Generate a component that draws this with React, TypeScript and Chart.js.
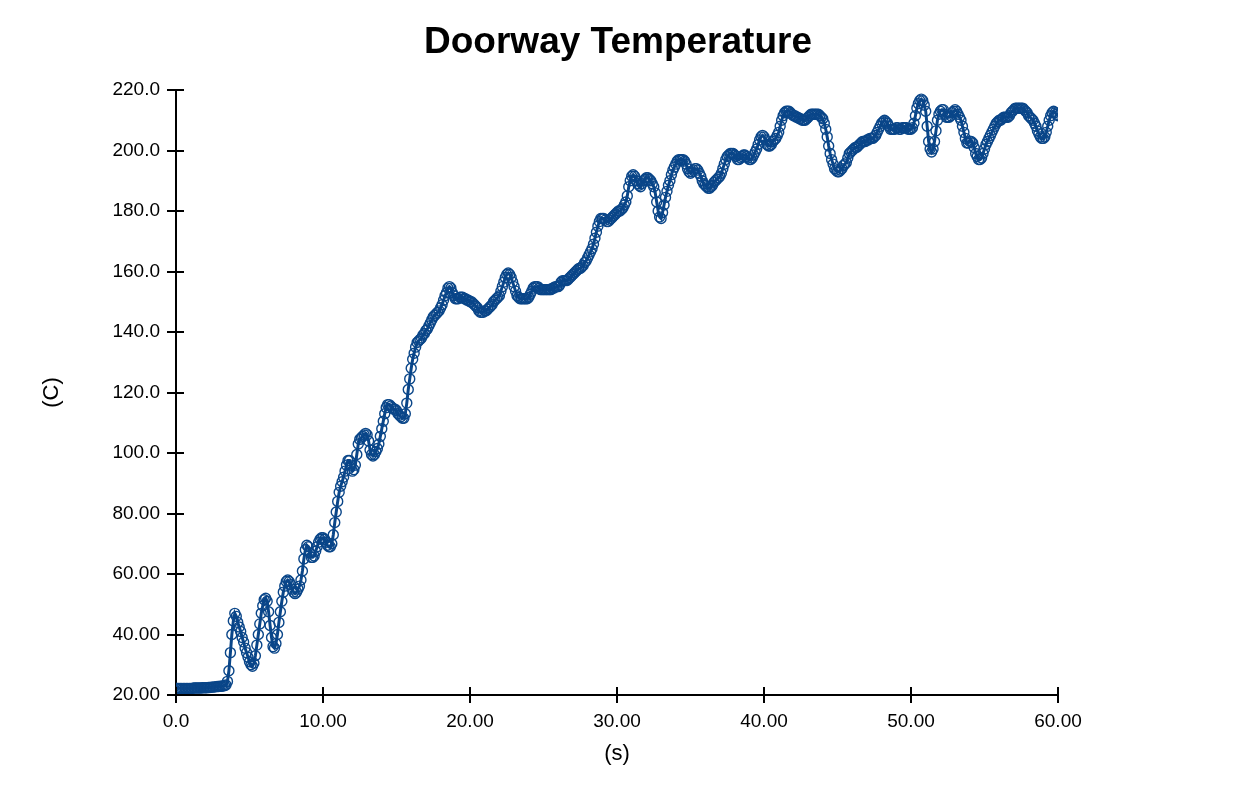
import React, { useEffect, useRef } from "react";
import { Chart, registerables } from "chart.js";

Chart.register(...registerables);

// Sampling interval of the thermocouple record, seconds
const TIME_STEP = 0.1;

// Doorway temperature (C), one reading per TIME_STEP starting at 0 s (ten per row)
const TEMPS: number[] = [
  22.2, 22.2, 22.2, 22.2, 22.2, 22.2, 22.2, 22.2, 22.2, 22.2,
  22.2, 22.2, 22.3, 22.3, 22.3, 22.3, 22.3, 22.3, 22.4, 22.4,
  22.4, 22.4, 22.5, 22.5, 22.6, 22.6, 22.7, 22.7, 22.8, 22.8,
  22.9, 22.9, 23.0, 23.1, 23.3, 24.5, 28.0, 34.0, 40.0, 44.5,
  47.0, 46.0, 44.0, 42.5, 41.0, 39.0, 37.5, 35.5, 34.0, 32.5,
  31.0, 30.0, 29.5, 30.5, 33.0, 36.5, 40.0, 43.5, 47.0, 49.5,
  51.5, 52.0, 51.0, 47.5, 43.0, 39.0, 36.0, 35.5, 37.0, 40.0,
  44.0, 47.5, 51.0, 54.0, 56.0, 57.5, 58.0, 57.5, 56.5, 55.0,
  54.0, 53.5, 54.0, 55.0, 56.0, 58.0, 61.0, 65.0, 68.0, 69.5,
  69.0, 67.0, 65.5, 65.5, 66.0, 67.5, 69.0, 70.5, 71.5, 72.0,
  72.0, 71.5, 70.5, 69.5, 69.0, 69.0, 70.0, 73.0, 77.0, 80.5,
  84.0, 87.0, 89.0, 90.5, 92.0, 94.0, 96.0, 97.5, 97.5, 96.0,
  94.0, 94.5, 96.0, 99.5, 103.0, 104.5, 105.0, 105.5, 106.0, 106.5,
  106.0, 104.0, 101.0, 99.5, 99.0, 99.5, 100.5, 101.5, 103.0, 105.5,
  108.0, 110.5, 113.0, 115.0, 116.0, 116.0, 115.5, 115.0, 114.5, 114.5,
  114.0, 113.0, 112.5, 112.0, 111.5, 111.5, 113.0, 116.5, 121.0, 124.5,
  128.0, 131.0, 133.0, 135.0, 136.5, 137.0, 137.5, 138.0, 139.0, 139.5,
  140.5, 141.0, 142.0, 143.0, 144.0, 145.0, 145.5, 146.0, 146.5, 147.0,
  148.0, 149.0, 150.5, 152.0, 153.0, 154.5, 155.0, 154.5, 153.0, 152.0,
  151.0, 151.0, 151.0, 151.5, 151.5, 151.5, 151.0, 151.0, 150.5, 150.5,
  150.0, 150.0, 149.5, 149.0, 148.5, 148.0, 147.0, 146.5, 146.5, 146.5,
  147.0, 147.0, 147.5, 148.0, 148.5, 149.0, 150.0, 150.5, 151.0, 151.5,
  152.0, 153.5, 155.0, 156.5, 158.0, 159.0, 159.5, 159.0, 158.0, 156.5,
  155.0, 153.5, 152.0, 151.5, 151.0, 151.0, 151.0, 151.0, 151.0, 151.0,
  151.5, 152.5, 153.5, 154.5, 155.0, 155.0, 155.0, 154.5, 154.0, 154.0,
  154.0, 154.0, 154.0, 154.0, 154.0, 154.0, 154.5, 154.5, 155.0, 155.0,
  155.0, 155.5, 156.5, 157.0, 157.0, 157.0, 157.0, 157.5, 158.0, 158.5,
  159.0, 159.5, 160.0, 160.5, 161.0, 161.0, 161.5, 162.0, 163.0, 163.5,
  164.5, 165.5, 166.5, 167.5, 169.0, 171.0, 173.0, 175.0, 176.5, 177.5,
  177.5, 177.5, 177.0, 176.5, 176.5, 177.0, 177.5, 178.0, 178.5, 179.0,
  179.5, 180.0, 180.0, 180.5, 181.0, 182.0, 183.0, 185.0, 188.0, 190.0,
  191.5, 192.0, 191.5, 190.0, 189.0, 188.5, 188.0, 189.0, 190.0, 190.5,
  191.0, 191.0, 190.5, 190.0, 189.0, 188.0, 186.0, 183.0, 180.0, 178.0,
  177.5, 179.5, 182.0, 184.5, 186.5, 188.5, 190.0, 192.0, 193.5, 194.5,
  195.5, 196.5, 197.0, 197.0, 197.0, 197.0, 196.5, 195.5, 194.0, 193.0,
  192.5, 193.0, 193.5, 194.0, 194.0, 193.5, 192.5, 191.5, 190.0, 189.0,
  188.5, 188.0, 187.5, 187.5, 188.0, 188.5, 189.5, 190.0, 190.5, 191.0,
  191.5, 192.5, 194.0, 195.5, 197.0, 198.0, 198.5, 199.0, 199.0, 199.0,
  198.5, 198.0, 197.0, 197.0, 197.5, 198.0, 198.5, 198.5, 198.0, 197.5,
  197.0, 197.0, 197.5, 198.5, 199.5, 200.5, 202.0, 203.5, 204.5, 205.0,
  204.5, 203.5, 202.0, 201.5, 201.5, 202.0, 203.0, 203.5, 204.0, 205.0,
  206.0, 208.0, 210.0, 211.5, 212.5, 213.0, 213.0, 213.0, 212.5, 212.0,
  211.5, 211.5, 211.0, 211.0, 210.5, 210.5, 210.0, 210.0, 210.0, 210.5,
  211.0, 211.5, 212.0, 212.0, 212.0, 212.0, 212.0, 212.0, 211.5, 211.0,
  210.5, 209.0, 207.0, 204.5, 201.5, 199.0, 197.0, 195.5, 194.0, 193.5,
  193.0, 193.0, 193.5, 194.0, 195.0, 195.5, 196.0, 197.5, 199.0, 199.5,
  200.0, 200.5, 201.0, 201.0, 201.5, 202.0, 202.5, 203.0, 203.0, 203.0,
  203.5, 203.5, 204.0, 204.0, 204.0, 204.5, 205.0, 206.0, 207.0, 208.0,
  209.0, 209.5, 210.0, 209.5, 209.0, 208.0, 207.0, 207.0, 207.0, 207.0,
  207.5, 207.5, 207.0, 207.0, 207.5, 207.5, 207.5, 207.5, 207.0, 207.0,
  207.0, 207.5, 209.0, 211.5, 214.0, 215.5, 216.5, 217.0, 216.5, 215.0,
  213.0, 208.0, 203.0, 200.5, 199.5, 200.5, 203.0, 206.5, 210.0, 212.0,
  213.0, 213.5, 213.5, 212.0, 211.0, 211.0, 211.0, 211.5, 212.5, 213.0,
  213.5, 213.0, 212.0, 211.0, 210.0, 208.0, 206.0, 204.0, 202.5, 202.5,
  203.0, 203.0, 202.5, 201.0, 199.0, 198.0, 197.0, 197.0, 197.5, 199.0,
  200.5, 202.0, 203.0, 204.0, 205.0, 206.0, 207.0, 208.0, 209.0, 209.5,
  210.0, 210.0, 210.5, 211.0, 211.0, 211.0, 211.0, 211.5, 212.5, 213.0,
  213.5, 214.0, 214.0, 214.0, 214.0, 214.0, 214.0, 213.5, 213.0, 212.5,
  211.5, 211.0, 210.5, 210.0, 209.0, 208.0, 206.5, 205.5, 204.5, 204.0,
  204.0, 204.5, 206.0, 208.0, 210.0, 211.5, 212.5, 213.0, 212.5, 212.0,
  211.5,
];

const X_TICK_LABELS = ["0.0", "10.00", "20.00", "30.00", "40.00", "50.00", "60.00"];
const Y_TICK_LABELS = [
  "20.00", "40.00", "60.00", "80.00", "100.0", "120.0",
  "140.0", "160.0", "180.0", "200.0", "220.0",
];

const SERIES_COLOR = "#0a4689";
const FONT_FAMILY = "'Liberation Sans', Arial, sans-serif";

// Short tick marks drawn on the inner side of each axis as well
const innerTicks = {
  id: "innerTicks",
  afterDraw(chart: any) {
    const { ctx, chartArea, scales } = chart;
    const len = 8;
    ctx.save();
    ctx.strokeStyle = "#000";
    ctx.lineWidth = 2;
    ctx.beginPath();
    scales.x.ticks.forEach((_t: any, i: number) => {
      const px = Math.round(scales.x.getPixelForTick(i));
      ctx.moveTo(px, chartArea.bottom);
      ctx.lineTo(px, chartArea.bottom - len);
    });
    scales.y.ticks.forEach((_t: any, i: number) => {
      const py = Math.round(scales.y.getPixelForTick(i));
      ctx.moveTo(chartArea.left, py);
      ctx.lineTo(chartArea.left + len, py);
    });
    ctx.stroke();
    ctx.restore();
  },
};

export default function App() {
  const canvasRef = useRef<HTMLCanvasElement | null>(null);

  useEffect(() => {
    if (!canvasRef.current) return;
    const points = TEMPS.map((v, i) => ({ x: i * TIME_STEP, y: v }));
    const chart = new Chart(canvasRef.current, {
      type: "line",
      data: {
        datasets: [
          {
            label: "Doorway Temperature",
            data: points,
            borderColor: SERIES_COLOR,
            borderWidth: 3,
            pointRadius: 5,
            pointBorderWidth: 1.4,
            pointBorderColor: SERIES_COLOR,
            pointBackgroundColor: "rgba(0,0,0,0)",
            tension: 0,
          },
        ],
      },
      options: {
        responsive: false,
        animation: false,
        devicePixelRatio: 1,
        layout: { padding: 0 },
        plugins: {
          legend: { display: false },
          tooltip: { enabled: false },
          title: {
            display: true,
            text: "Doorway Temperature",
            color: "#000",
            font: { family: FONT_FAMILY, size: 37, weight: "bold", lineHeight: 1.2 },
            padding: { top: 21, bottom: 24.6 },
          },
        },
        scales: {
          x: {
            type: "linear",
            min: 0,
            max: 60,
            afterFit: (scale: any) => {
              scale.height = 91;
            },
            ticks: {
              stepSize: 10,
              color: "#000",
              padding: 7,
              maxRotation: 0,
              font: { family: FONT_FAMILY, size: 19 },
              callback: (_v: any, i: number) => X_TICK_LABELS[i],
            },
            grid: {
              display: true,
              drawOnChartArea: false,
              drawTicks: true,
              tickLength: 8,
              color: "#000",
              lineWidth: 2,
            },
            border: { display: true, color: "#000", width: 2 },
            title: {
              display: true,
              text: "(s)",
              color: "#000",
              font: { family: FONT_FAMILY, size: 22, lineHeight: 1.2 },
              padding: { top: 0, bottom: 18.8 },
            },
          },
          y: {
            type: "linear",
            position: "left",
            min: 20,
            max: 220,
            afterFit: (scale: any) => {
              scale.width = 176;
            },
            ticks: {
              stepSize: 20,
              color: "#000",
              padding: 7,
              font: { family: FONT_FAMILY, size: 19 },
              callback: (_v: any, i: number) => Y_TICK_LABELS[i],
            },
            grid: {
              display: true,
              drawOnChartArea: false,
              drawTicks: true,
              tickLength: 9,
              color: "#000",
              lineWidth: 2,
            },
            border: { display: true, color: "#000", width: 2 },
            title: {
              display: true,
              text: "(C)",
              color: "#000",
              font: { family: FONT_FAMILY, size: 22, lineHeight: 1.2 },
              padding: { top: 39, bottom: 0 },
            },
          },
          // Blank margin on the right so the title stays centred on the page
          spacer: {
            type: "linear",
            position: "right",
            display: true,
            afterFit: (scale: any) => {
              scale.width = 178;
            },
            ticks: { display: false },
            grid: { display: false, drawTicks: false },
            border: { display: false },
          },
        },
      },
      plugins: [innerTicks],
    });
    return () => chart.destroy();
  }, []);

  return (
    <div
      style={{
        position: "fixed",
        left: 0,
        top: 0,
        width: 1236,
        height: 786,
        background: "#fff",
      }}
    >
      <canvas ref={canvasRef} width={1236} height={786} />
    </div>
  );
}
